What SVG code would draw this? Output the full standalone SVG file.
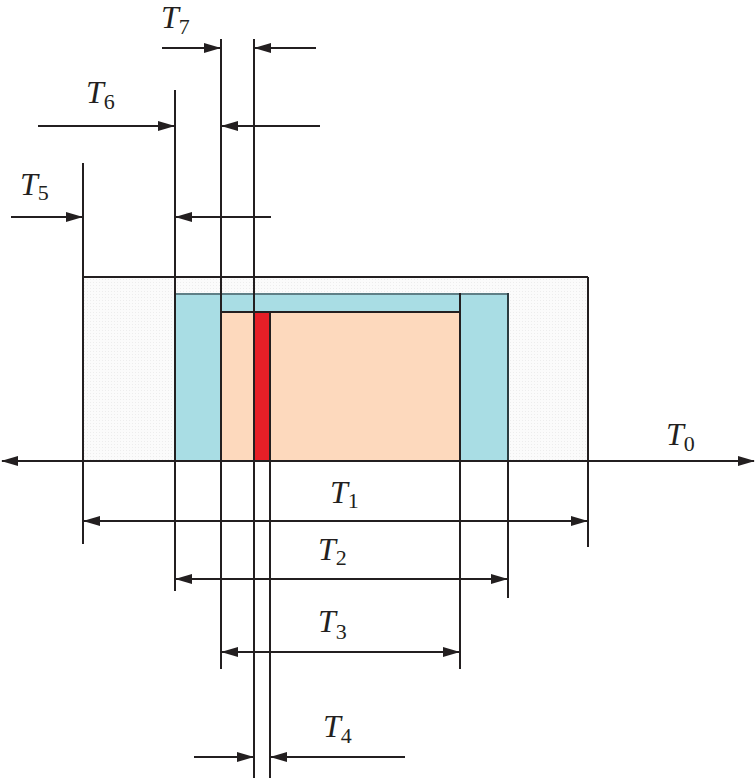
<svg xmlns="http://www.w3.org/2000/svg" width="756" height="778" viewBox="0 0 756 778">
  <style>
    .ln { stroke: #231f20; stroke-width: 2; fill: none; }
    .dim { stroke: #231f20; stroke-width: 2; fill: none; }
    .lbl { font-family: "Liberation Serif", "Times New Roman", serif; font-size: 32px; fill: #231f20; }
    .it { font-style: italic; }
    .sub { font-size: 22px; font-style: normal; }
  </style>
  <defs>
    <marker id="arr" markerUnits="userSpaceOnUse" markerWidth="17" markerHeight="10" refX="16" refY="5" orient="auto-start-reverse" viewBox="0 0 17 10">
      <path d="M0,0 L17,5 L0,10 z" fill="#231f20"/>
    </marker>
    <pattern id="dots" width="3" height="3" patternUnits="userSpaceOnUse">
      <rect width="3" height="3" fill="#fbfbfb"/>
      <rect width="1" height="1" fill="#ededed"/>
    </pattern>
  </defs>
  <rect width="756" height="778" fill="#ffffff"/>

  <g id="outer-band">
    <rect x="83" y="277" width="505" height="184" fill="url(#dots)"/>
  </g>
  <g id="blue-band">
    <rect x="175" y="293" width="333" height="168" fill="#a9dde4"/>
    <line x1="175" y1="294" x2="508" y2="294" stroke="#5f7f86" stroke-width="2"/>
    <line x1="508" y1="293" x2="508" y2="461" stroke="#2c3c40" stroke-width="2"/>
  </g>
  <g id="orange-band">
    <rect x="221" y="312" width="239" height="149" fill="#fdd9bd"/>
  </g>
  <g id="red-band">
    <rect x="254" y="312" width="16" height="149" fill="#e61f27"/>
  </g>

  <g id="connectors">
    <line class="ln" x1="83" y1="277" x2="588" y2="277"/>
    <line class="ln" x1="221" y1="312" x2="460" y2="312"/>
    <line class="ln" x1="83" y1="163" x2="83" y2="544"/>
    <line class="ln" x1="175" y1="90" x2="175" y2="591"/>
    <line class="ln" x1="221" y1="39" x2="221" y2="669"/>
    <line class="ln" x1="254" y1="39" x2="254" y2="778"/>
    <line class="ln" x1="270" y1="312" x2="270" y2="778"/>
    <line class="ln" x1="460" y1="293" x2="460" y2="669"/>
    <line class="ln" x1="508" y1="461" x2="508" y2="598"/>
    <line class="ln" x1="588" y1="277" x2="588" y2="547"/>

    <line class="dim" x1="2" y1="461" x2="754" y2="461" marker-start="url(#arr)" marker-end="url(#arr)"/>
    <line class="dim" x1="84" y1="521" x2="587" y2="521" marker-start="url(#arr)" marker-end="url(#arr)"/>
    <line class="dim" x1="176" y1="579" x2="507" y2="579" marker-start="url(#arr)" marker-end="url(#arr)"/>
    <line class="dim" x1="222" y1="652" x2="459" y2="652" marker-start="url(#arr)" marker-end="url(#arr)"/>
    <line class="dim" x1="194" y1="757" x2="253" y2="757" marker-end="url(#arr)"/>
    <line class="dim" x1="405" y1="757" x2="271" y2="757" marker-end="url(#arr)"/>
    <line class="dim" x1="11" y1="217" x2="82" y2="217" marker-end="url(#arr)"/>
    <line class="dim" x1="271" y1="217" x2="176" y2="217" marker-end="url(#arr)"/>
    <line class="dim" x1="38" y1="126" x2="174" y2="126" marker-end="url(#arr)"/>
    <line class="dim" x1="320" y1="126" x2="222" y2="126" marker-end="url(#arr)"/>
    <line class="dim" x1="162" y1="48" x2="220" y2="48" marker-end="url(#arr)"/>
    <line class="dim" x1="316" y1="48" x2="255" y2="48" marker-end="url(#arr)"/>
  </g>

  <g id="labels">
    <text class="lbl" x="666" y="445"><tspan class="it">T</tspan><tspan class="sub" dy="6">0</tspan></text>
    <text class="lbl" x="330" y="503"><tspan class="it">T</tspan><tspan class="sub" dy="5">1</tspan></text>
    <text class="lbl" x="318" y="560"><tspan class="it">T</tspan><tspan class="sub" dy="5">2</tspan></text>
    <text class="lbl" x="318" y="632"><tspan class="it">T</tspan><tspan class="sub" dy="7">3</tspan></text>
    <text class="lbl" x="323" y="737"><tspan class="it">T</tspan><tspan class="sub" dy="6">4</tspan></text>
    <text class="lbl" x="20" y="195"><tspan class="it">T</tspan><tspan class="sub" dy="5">5</tspan></text>
    <text class="lbl" x="86" y="103"><tspan class="it">T</tspan><tspan class="sub" dy="6">6</tspan></text>
    <text class="lbl" x="161" y="28"><tspan class="it">T</tspan><tspan class="sub" dy="6">7</tspan></text>
  </g>
</svg>
